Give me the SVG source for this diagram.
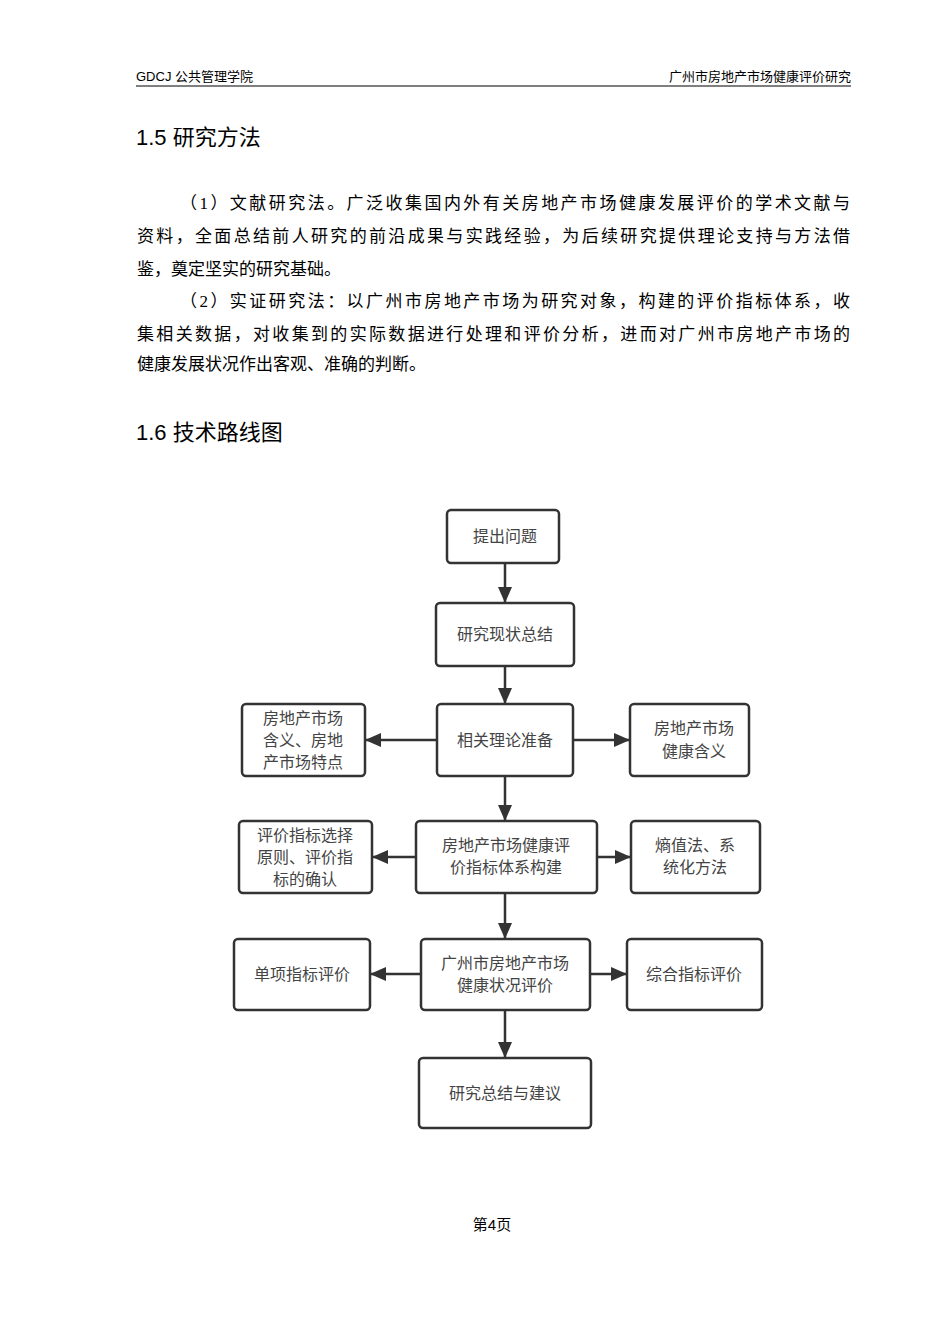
<svg xmlns="http://www.w3.org/2000/svg" width="950" height="1344" viewBox="0 0 950 1344">
<style>
.h{font-family:"Liberation Sans","Noto Sans CJK SC",sans-serif;font-size:13px;fill:#000}
.t{font-family:"Liberation Sans","Noto Sans CJK SC",sans-serif;font-size:22px;fill:#000}
.p{font-family:"Liberation Serif","Noto Sans CJK SC",serif;font-size:17px;fill:#000}
.n rect{fill:#fff;stroke:#333;stroke-width:2.5}
.n text{font-family:"Noto Sans CJK SC",sans-serif;font-size:16px;fill:#444;text-anchor:middle}
.c line{stroke:#333;stroke-width:2.5}
</style>
<defs><marker id="b" markerWidth="16" markerHeight="14" refX="15" refY="7" orient="auto" markerUnits="userSpaceOnUse"><path d="M0,0 L16,7 L0,14 Z" fill="#333"/></marker></defs>
<rect width="950" height="1344" fill="#fff"/>
<text class="h" x="136" y="81">GDCJ 公共管理学院</text>
<text class="h" x="851" y="81" text-anchor="end">广州市房地产市场健康评价研究</text>
<line x1="136" y1="86" x2="851" y2="86" stroke="#000" stroke-width="1.2"/>
<text class="t" x="136" y="145">1.5 研究方法</text>
<text class="p" x="180" y="209" textLength="670" lengthAdjust="spacing">（1）文献研究法。广泛收集国内外有关房地产市场健康发展评价的学术文献与</text>
<text class="p" x="137" y="242" textLength="713" lengthAdjust="spacing">资料，全面总结前人研究的前沿成果与实践经验，为后续研究提供理论支持与方法借</text>
<text class="p" x="137" y="275">鉴，奠定坚实的研究基础。</text>
<text class="p" x="180" y="307" textLength="670" lengthAdjust="spacing">（2）实证研究法：以广州市房地产市场为研究对象，构建的评价指标体系，收</text>
<text class="p" x="137" y="340" textLength="713" lengthAdjust="spacing">集相关数据，对收集到的实际数据进行处理和评价分析，进而对广州市房地产市场的</text>
<text class="p" x="137" y="370">健康发展状况作出客观、准确的判断。</text>
<text class="t" x="136" y="440">1.6 技术路线图</text>
<g class="c">
<line x1="505" y1="563" x2="505" y2="602" marker-end="url(#b)"/>
<line x1="505" y1="666" x2="505" y2="703" marker-end="url(#b)"/>
<line x1="505" y1="776" x2="505" y2="820" marker-end="url(#b)"/>
<line x1="505" y1="893" x2="505" y2="938" marker-end="url(#b)"/>
<line x1="505" y1="1010" x2="505" y2="1057" marker-end="url(#b)"/>
<line x1="437" y1="740" x2="366" y2="740" marker-end="url(#b)"/>
<line x1="573" y1="740" x2="629" y2="740" marker-end="url(#b)"/>
<line x1="416" y1="857" x2="373" y2="857" marker-end="url(#b)"/>
<line x1="597" y1="857" x2="630" y2="857" marker-end="url(#b)"/>
<line x1="421" y1="974" x2="371" y2="974" marker-end="url(#b)"/>
<line x1="590" y1="974" x2="626" y2="974" marker-end="url(#b)"/>
</g>
<g class="n" id="n1"><rect x="447" y="510" width="112" height="53" rx="4"/><text x="505" y="542">提出问题</text></g>
<g class="n" id="n2"><rect x="436" y="603" width="138" height="63" rx="4"/><text x="505" y="640">研究现状总结</text></g>
<g class="n" id="n3"><rect x="437" y="704" width="136" height="72" rx="4"/><text x="505" y="746">相关理论准备</text></g>
<g class="n" id="n3l"><rect x="242" y="704" width="123" height="72" rx="4"/><text x="303" y="724">房地产市场</text><text x="303" y="746">含义、房地</text><text x="303" y="768">产市场特点</text></g>
<g class="n" id="n3r"><rect x="630" y="704" width="119" height="72" rx="4"/><text x="694" y="734">房地产市场</text><text x="694" y="757">健康含义</text></g>
<g class="n" id="n4"><rect x="416" y="821" width="181" height="72" rx="4"/><text x="506" y="851">房地产市场健康评</text><text x="506" y="873">价指标体系构建</text></g>
<g class="n" id="n4l"><rect x="239" y="821" width="133" height="72" rx="4"/><text x="305" y="841">评价指标选择</text><text x="305" y="863">原则、评价指</text><text x="305" y="885">标的确认</text></g>
<g class="n" id="n4r"><rect x="631" y="821" width="129" height="72" rx="4"/><text x="695" y="851">熵值法、系</text><text x="695" y="873">统化方法</text></g>
<g class="n" id="n5"><rect x="421" y="939" width="169" height="71" rx="4"/><text x="505" y="969">广州市房地产市场</text><text x="505" y="991">健康状况评价</text></g>
<g class="n" id="n5l"><rect x="234" y="939" width="136" height="71" rx="4"/><text x="302" y="980">单项指标评价</text></g>
<g class="n" id="n5r"><rect x="627" y="939" width="135" height="71" rx="4"/><text x="694" y="980">综合指标评价</text></g>
<g class="n" id="n6"><rect x="419" y="1058" width="172" height="70" rx="4"/><text x="505" y="1099">研究总结与建议</text></g>
<text class="h" x="492" y="1230" text-anchor="middle" style="font-size:15px">第4页</text>
</svg>
